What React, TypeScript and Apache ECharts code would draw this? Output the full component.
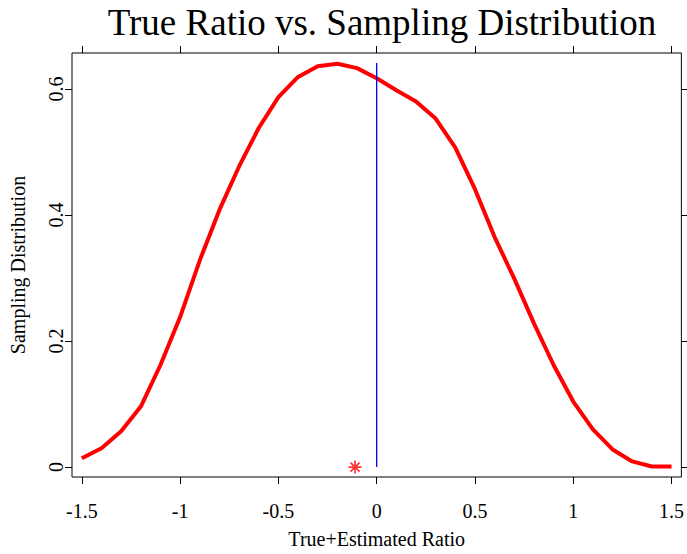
import React, { useEffect, useRef } from "react";
import * as echarts from "echarts";

const xValues = [-1.5, -1.4, -1.3, -1.2, -1.1, -1.0, -0.9, -0.8, -0.7, -0.6, -0.5, -0.4, -0.3, -0.2, -0.1, 0.0, 0.1, 0.2, 0.3, 0.4, 0.5, 0.6, 0.7, 0.8, 0.9, 1.0, 1.1, 1.2, 1.3, 1.4, 1.5];
const densityValues = [0.014, 0.030, 0.057, 0.096, 0.162, 0.238, 0.328, 0.408, 0.477, 0.538, 0.587, 0.619, 0.636, 0.640, 0.633, 0.617, 0.598, 0.580, 0.553, 0.507, 0.441, 0.365, 0.299, 0.228, 0.162, 0.104, 0.060, 0.028, 0.009, 0.001, 0.001];
const trueLineX = [0, 0];
const trueLineY = [0, 0.641];
const estimatePoint = [-0.11, 0];
const xTicks = [-1.5, -1, -0.5, 0, 0.5, 1, 1.5];
const yTicks = [0, 0.2, 0.4, 0.6];

const FONT = "Liberation Serif";

export default function App() {
  const ref = useRef<HTMLDivElement>(null);
  useEffect(() => {
    if (!ref.current) return;
    const chart = echarts.init(ref.current, null, { renderer: "svg" });
    const tickStyle = { show: true, inside: false, length: 7, lineStyle: { color: "#000", width: 1 } };
    const noLine = { show: false, onZero: false };
    const xMin = -1.55, xMax = 1.55, yMin = -0.0157, yMax = 0.657;
    chart.setOption({
      animation: false,
      backgroundColor: "#fff",
      textStyle: { fontFamily: FONT, color: "#000" },
      title: {
        text: "True Ratio vs. Sampling Distribution",
        left: 377,
        top: -1,
        textAlign: "center",
        textStyle: { fontFamily: FONT, fontSize: 37, fontWeight: "normal", color: "#000" },
      },
      grid: { left: 70, right: 2, top: 53, bottom: 74, show: true, borderColor: "#000", borderWidth: 1, backgroundColor: "transparent" },
      xAxis: [
        {
          type: "value", position: "bottom", min: xMin, max: xMax,
          axisLine: noLine,
          axisTick: { ...tickStyle, customValues: xTicks },
          axisLabel: { customValues: xTicks, fontFamily: FONT, fontSize: 20, color: "#000", margin: 24 },
          splitLine: { show: false },
          name: "True+Estimated Ratio", nameLocation: "middle", nameGap: 52,
          nameTextStyle: { fontFamily: FONT, fontSize: 20, color: "#000" },
        },
        {
          type: "value", position: "top", min: xMin, max: xMax,
          axisLine: noLine,
          axisTick: { ...tickStyle, customValues: xTicks },
          axisLabel: { show: false },
          splitLine: { show: false },
        },
      ],
      yAxis: [
        {
          type: "value", position: "left", min: yMin, max: yMax,
          axisLine: noLine,
          axisTick: { ...tickStyle, customValues: yTicks },
          axisLabel: { customValues: yTicks, rotate: 90, fontFamily: FONT, fontSize: 20, color: "#000", margin: 6 },
          splitLine: { show: false },
          name: "Sampling Distribution", nameLocation: "middle", nameGap: 44, nameRotate: 90,
          nameTextStyle: { fontFamily: FONT, fontSize: 20, color: "#000" },
        },
        {
          type: "value", position: "right", min: yMin, max: yMax,
          axisLine: noLine,
          axisTick: { ...tickStyle, customValues: yTicks },
          axisLabel: { show: false },
          splitLine: { show: false },
        },
      ],
      series: [
        {
          type: "line",
          data: xValues.map((x, i) => [x, densityValues[i]]),
          showSymbol: false,
          lineStyle: { color: "#ff0000", width: 4 },
          itemStyle: { color: "#ff0000" },
        },
        {
          type: "line",
          data: trueLineX.map((x, i) => [x, trueLineY[i]]),
          showSymbol: false,
          lineStyle: { color: "#0000ff", width: 1.3 },
        },
        {
          type: "scatter",
          data: [estimatePoint],
          symbol: "path://M5 0 L5 10 M0 5 L10 5 M1.5 1.5 L8.5 8.5 M1.5 8.5 L8.5 1.5",
          symbolSize: 13,
          symbolKeepAspect: true,
          itemStyle: { color: "rgba(0,0,0,0)", borderColor: "#ff0000", borderWidth: 1.7 },
        },
      ],
    });
    return () => chart.dispose();
  }, []);
  return <div ref={ref} style={{ position: "fixed", left: 0, top: 0, width: 687, height: 554, background: "#fff" }} />;
}
